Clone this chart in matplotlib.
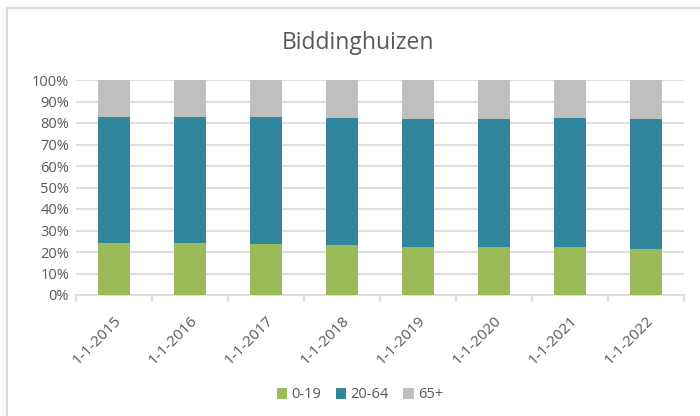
import matplotlib.pyplot as plt
import numpy as np
from matplotlib.ticker import PercentFormatter
from matplotlib.lines import Line2D

dates = ['1-1-2015', '1-1-2016', '1-1-2017', '1-1-2018',
         '1-1-2019', '1-1-2020', '1-1-2021', '1-1-2022']
age_0_19 = [24.3, 24.0, 23.6, 23.1, 22.2, 22.2, 22.2, 21.4]
age_20_64 = [58.6, 58.9, 59.0, 59.1, 59.5, 59.5, 60.0, 60.3]
age_65 = [100 - a - b for a, b in zip(age_0_19, age_20_64)]

plt.rcParams['font.family'] = ['Open Sans', 'DejaVu Sans']
grey_txt = '#595959'
grid_c = '#d9d9d9'

fig = plt.figure(figsize=(7, 4.16), dpi=100)
ax = fig.add_axes([76/700, 1 - 295/416, (684 - 76)/700, 215/416])

x = np.arange(len(dates))
w = 0.41
ax.bar(x, age_0_19, w, color='#9bbb59', label='0-19', zorder=3)
ax.bar(x, age_20_64, w, bottom=age_0_19, color='#31859c', label='20-64', zorder=3)
bot = [a + b for a, b in zip(age_0_19, age_20_64)]
ax.bar(x, age_65, w, bottom=bot, color='#bfbfbf', label='65+', zorder=3)

ax.set_xlim(-0.5, len(dates) - 0.5)
ax.set_ylim(0, 100)
ax.set_yticks(range(0, 101, 10))
ax.yaxis.set_major_formatter(PercentFormatter(decimals=0))
ax.grid(axis='y', color=grid_c, linewidth=1.2, zorder=0)

ax.set_xticks(x)
ax.set_xticklabels(dates, rotation=45, ha='right', rotation_mode='anchor')
ax.set_xticks(np.arange(-0.5, len(dates)), minor=True)
ax.tick_params(axis='x', which='major', length=0, pad=13, colors=grey_txt, labelsize=11)
ax.tick_params(axis='x', which='minor', length=5, color=grid_c, width=1.2)
ax.tick_params(axis='y', length=0, colors=grey_txt, labelsize=10.5, pad=5)

for s in ['top', 'right', 'left']:
    ax.spines[s].set_visible(False)
ax.spines['bottom'].set_color(grid_c)
ax.spines['bottom'].set_linewidth(1.2)

fig.text(358/700, 1 - 43/416, 'Biddinghuizen', ha='center', va='center',
         fontsize=16.5, color=grey_txt)

handles, labels = ax.get_legend_handles_labels()
fig.legend(handles, labels, loc='center', bbox_to_anchor=(360/700, 1 - 395/416),
           ncol=3, frameon=False, fontsize=10.5, labelcolor=grey_txt,
           handlelength=0.7, handleheight=0.7, handletextpad=0.3, columnspacing=1.0)

# outer chart border (only left and top visible)
fig.add_artist(Line2D([7/700, 7/700], [0, 1 - 8/416], transform=fig.transFigure,
                      color=grid_c, linewidth=1.5))
fig.add_artist(Line2D([7/700, 1], [1 - 8/416, 1 - 8/416], transform=fig.transFigure,
                      color=grid_c, linewidth=1.5))

fig.savefig('out.png', dpi=100)
